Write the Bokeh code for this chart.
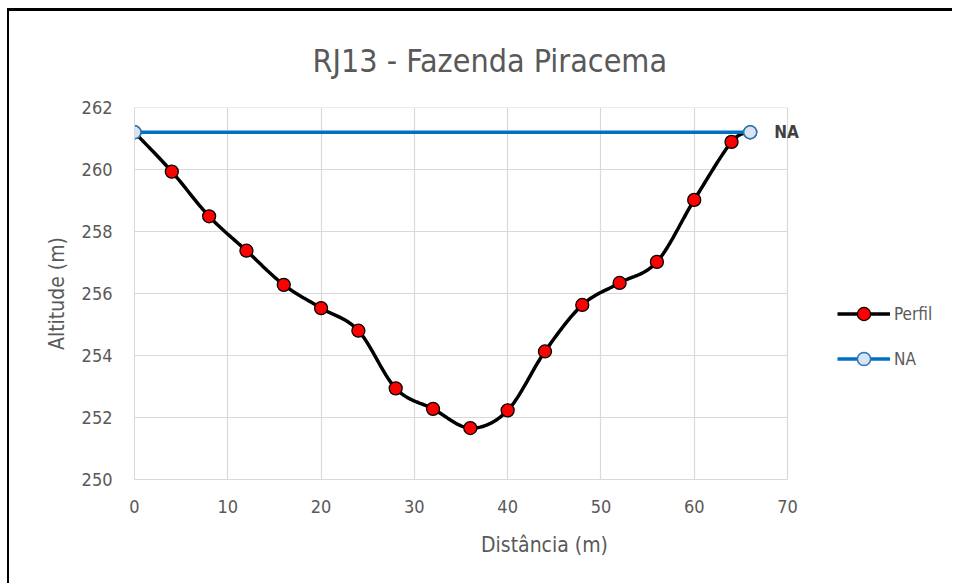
import numpy as np
from bokeh.plotting import figure
from bokeh.models import Legend, LegendItem, Label, FixedTicker
from bokeh.embed import file_html
from bokeh.resources import INLINE

# ---- data ----
dist = [0, 4, 8, 12, 16, 20, 24, 28, 32, 36, 40, 44, 48, 52, 56, 60, 64, 66]
alt = [261.2, 259.93, 258.49, 257.38, 256.28, 255.53, 254.8, 252.94, 252.28,
       251.66, 252.23, 254.13, 255.63, 256.34, 257.02, 259.02, 260.89, 261.2]
na_x = [0, 66]
na_y = [261.2, 261.2]
x_ticks = [0, 10, 20, 30, 40, 50, 60, 70]
y_ticks = [250, 252, 254, 256, 258, 260, 262]
X_MAX = 70

FONT = "DejaVu Sans Condensed, Liberation Sans Narrow, Liberation Sans, sans-serif"
GREY = "#595959"

# ---- layout (pixels) ----
W, H = 945, 575
LEFT, TOP, BOTTOM = 125, 95, 107
AXIS_PX = 653                      # pixel length of 0..70 on the x axis
FRAME_W = W - LEFT                 # frame runs to the right edge (room for legend)
x_end = X_MAX * FRAME_W / AXIS_PX


def smooth(xs, ys, n=24):
    """Excel-like smoothed line path (Catmull-Rom Bezier) for rendering."""
    xs = np.asarray(xs, float)
    ys = np.asarray(ys, float)
    px = np.concatenate([[xs[0]], xs, [xs[-1]]])
    py = np.concatenate([[ys[0]], ys, [ys[-1]]])
    ox, oy = [], []
    t = np.linspace(0, 1, n)
    for i in range(1, len(px) - 2):
        p0 = np.array([px[i - 1], py[i - 1]])
        p1 = np.array([px[i], py[i]])
        p2 = np.array([px[i + 1], py[i + 1]])
        p3 = np.array([px[i + 2], py[i + 2]])
        c1 = p1 + (p2 - p0) / 6.0
        c2 = p2 - (p3 - p1) / 6.0
        for tt in t:
            b = ((1 - tt) ** 3) * p1 + 3 * ((1 - tt) ** 2) * tt * c1 + 3 * (1 - tt) * tt ** 2 * c2 + tt ** 3 * p2
            ox.append(b[0])
            oy.append(b[1])
    return ox, oy


p = figure(width=W, height=H, x_range=(0, x_end), y_range=(250, 262),
           output_backend="svg", toolbar_location=None,
           min_border_left=LEFT, min_border_right=0, min_border_top=TOP,
           min_border_bottom=BOTTOM)

p.title.text = "RJ13 - Fazenda Piracema"
p.title.align = "left"
p.title.offset = 178
p.title.text_font = FONT
p.title.text_font_size = "32px"
p.title.text_font_style = "normal"
p.title.text_color = GREY
p.title.standoff = 56

p.outline_line_color = None
p.background_fill_color = "white"
p.border_fill_color = "white"
p.styles = {"border-left": "2px solid black", "border-top": "3px solid black",
            "margin-left": "7px", "margin-top": "8px"}

for ax in (p.xaxis[0], p.yaxis[0]):
    ax.major_tick_line_color = None
    ax.minor_tick_line_color = None
    ax.axis_line_color = "#d9d9d9"
    ax.major_label_text_font = FONT
    ax.major_label_text_font_size = "18px"
    ax.major_label_text_color = GREY
    ax.axis_label_text_font = FONT
    ax.axis_label_text_font_size = "21px"
    ax.axis_label_text_font_style = "normal"
    ax.axis_label_text_color = GREY

p.xaxis.ticker = FixedTicker(ticks=x_ticks)
p.yaxis.ticker = FixedTicker(ticks=y_ticks)
p.xaxis.bounds = (0, X_MAX)
p.xaxis.axis_label = "Distância (m)"
p.yaxis.axis_label = "Altitude (m)"
p.xaxis.major_label_standoff = 14
p.yaxis.major_label_standoff = 16
p.xaxis.axis_label_standoff = 17
p.yaxis.axis_label_standoff = 10

p.xgrid.grid_line_color = "#d9d9d9"
p.xgrid.grid_line_width = 1.2
p.ygrid.visible = False
# horizontal grid lines limited to the 0..70 span
p.segment(x0=[0] * len(y_ticks), x1=[X_MAX] * len(y_ticks), y0=y_ticks, y1=y_ticks,
          line_color="#d9d9d9", line_width=1.2)

sx, sy = smooth(dist, alt)
perfil_line = p.line(sx, sy, line_color="black", line_width=3.5)
perfil_pts = p.scatter(dist, alt, size=13, fill_color="#ff0000",
                       line_color="black", line_width=1.3)

na_line = p.line(na_x, na_y, line_color="#0070c0", line_width=3.5)
na_pts = p.scatter(na_x, na_y, size=13, fill_color="#dae3f3",
                   line_color="#2e75b6", line_width=1.5)

p.add_layout(Label(x=na_x[-1], y=na_y[-1], text="NA", x_offset=24,
                   text_baseline="middle", text_font=FONT,
                   text_font_size="17px", text_font_style="bold",
                   text_color="#404040"))

legend = Legend(items=[LegendItem(label="Perfil", renderers=[perfil_line, perfil_pts]),
                       LegendItem(label="NA", renderers=[na_line, na_pts])],
                location=(703, 104), glyph_width=53, glyph_height=33,
                spacing=12, label_text_font=FONT, label_text_font_size="17px",
                label_text_color=GREY, border_line_color=None,
                background_fill_alpha=0, label_standoff=4, padding=0,
                margin=0)
p.add_layout(legend, "center")

open("out.html", "w").write(file_html(p, INLINE))
